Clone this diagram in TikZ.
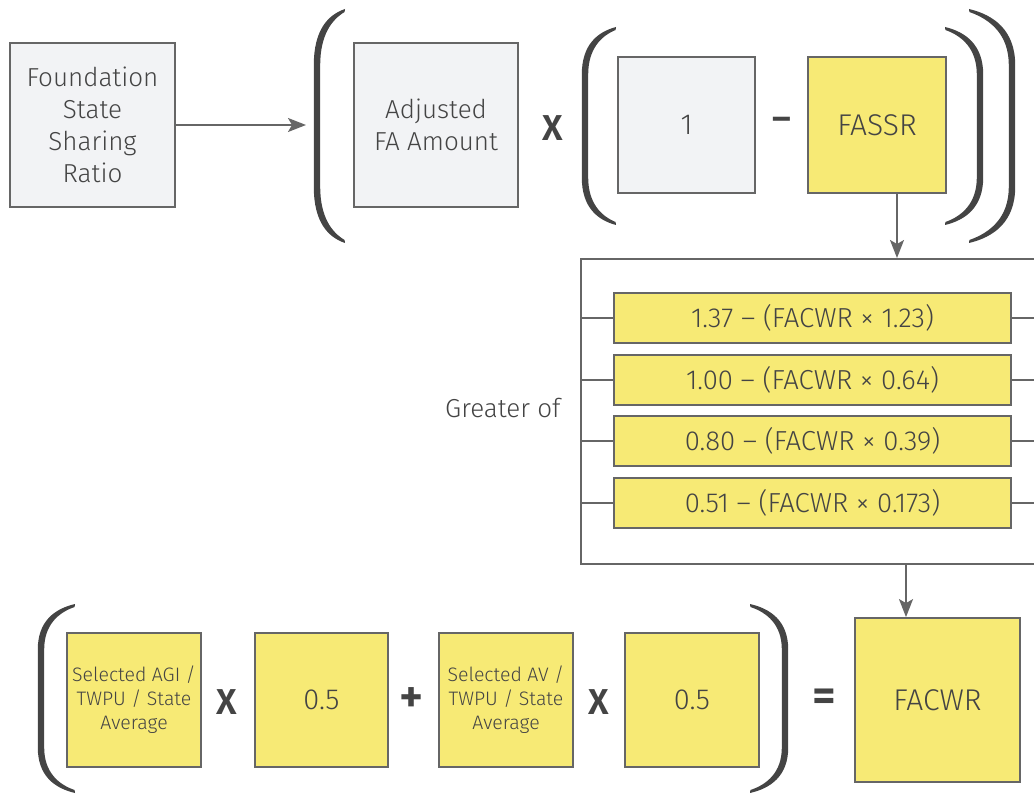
\documentclass[tikz,border=0pt]{standalone}
\usepackage{fontspec}
\IfFontExistsTF{Fira Sans Light}
  {\setmainfont{Fira Sans Light}[BoldFont={Fira Sans SemiBold}]}
  {\setmainfont{Fira Sans}}
\usetikzlibrary{arrows.meta}
\definecolor{ink}{HTML}{444444}
\definecolor{edge}{HTML}{666666}
\definecolor{paper}{HTML}{F2F3F5}
\definecolor{lemon}{HTML}{F7EA75}
\tikzset{
  base/.style={draw=edge, line width=1.8pt, text=ink, inner sep=0pt, align=center},
  greybox/.style={base, fill=paper},
  yellowbox/.style={base, fill=lemon},
  bigtxt/.style={font=\fontsize{26}{32}\selectfont},
  wordtxt/.style={font=\fontsize{30}{32}\selectfont},
  numtxt/.style={font=\fontsize{29}{32}\selectfont},
  midtxt/.style={font=\fontsize{27.5}{30}\selectfont},
  labeltxt/.style={font=\fontsize{26}{30}\selectfont},
  smalltxt/.style={font=\fontsize{19.5}{24}\selectfont},
  op/.style={text=ink, inner sep=0pt, font=\bfseries\fontsize{36}{36}\selectfont},
  bigop/.style={text=ink, inner sep=0pt, font=\bfseries\fontsize{46}{46}\selectfont},
  link/.style={draw=edge, line width=1.8pt},
  arrowlink/.style={link, -{Stealth[length=18pt,width=14pt,inset=4pt]}},
}
% Brush-like parenthesis: #1 tip x, #2 spine x, #3 top y, #4 bottom y
\newcommand\brushparen[4]{%
  \pgfmathsetmacro\pdir{(#1>#2) ? 1 : -1}%
  \pgfmathsetmacro\ph{3.2*\pdir}%
  \pgfmathsetmacro\pH{#4-#3}%
  \pgfmathsetmacro\pc{0.24*\pH}%
  \fill[ink]
    (#1,#3) .. controls ({#2-\ph+0.5*(#1-#2)},{#3+0.025*\pH}) and ({#2-\ph},{#3+0.09*\pH}) ..
    ({#2-\ph},{#3+\pc}) -- ({#2-\ph},{#4-\pc})
    .. controls ({#2-\ph},{#4-0.09*\pH}) and ({#2-\ph+0.5*(#1-#2)},{#4-0.025*\pH}) .. (#1,#4)
    -- ({#1-0.4*\pdir},{#4-3})
    .. controls ({#2+\ph+0.42*(#1-#2)},{#4-0.045*\pH}) and ({#2+\ph},{#4-0.11*\pH}) ..
    ({#2+\ph},{#4-\pc}) -- ({#2+\ph},{#3+\pc})
    .. controls ({#2+\ph},{#3+0.11*\pH}) and ({#2+\ph+0.42*(#1-#2)},{#3+0.045*\pH}) ..
    ({#1-0.4*\pdir},{#3+3}) -- cycle;%
}
\begin{document}
\begin{tikzpicture}[x=1pt, y=-1pt]
\useasboundingbox (0,0) rectangle (1034,794);

% ---- top row: Adjusted FA Amount x (1 - FASSR)
\node[greybox, bigtxt, minimum width=165, minimum height=164] (fssr) at (92.5,125)
  {Foundation\\State\\Sharing\\Ratio};
\node[greybox, bigtxt, minimum width=164, minimum height=164] (adj) at (436,125)
  {Adjusted\\FA Amount};
\node[op] (times1) at (553,128) {X};
\node[greybox, numtxt, minimum width=137, minimum height=136] (one) at (686.5,125) {1};
\node[op] (minus) at (782,124) {–};
\node[yellowbox, wordtxt, minimum width=138, minimum height=136] (fassr) at (877,125) {FASSR};

% parentheses around the product and the difference
\brushparen{345}{317}{9}{243}
\brushparen{616}{585}{27}{225}
\brushparen{945}{980}{27}{225}
\brushparen{969}{1012}{9}{243}

\coordinate (adjin) at (306,125);
\draw[arrowlink] (fssr.east) -- (fssr.east -| adjin);

% ---- "Greater of" block
\node[draw=edge, line width=1.8pt, anchor=north west, minimum width=480, minimum height=305,
  inner sep=0pt] (greater) at (580,258) {};
\node[text=ink, labeltxt, anchor=east] (glabel) at (564,408) {Greater of};
\node[yellowbox, midtxt, minimum width=397, minimum height=50] (e1) at (812.5,318)
  {1.37 – (FACWR × 1.23)};
\node[yellowbox, midtxt, minimum width=397, minimum height=50] (e2) at (812.5,380)
  {1.00 – (FACWR × 0.64)};
\node[yellowbox, midtxt, minimum width=397, minimum height=50] (e3) at (812.5,441)
  {0.80 – (FACWR × 0.39)};
\node[yellowbox, midtxt, minimum width=397, minimum height=50] (e4) at (812.5,503)
  {0.51 – (FACWR × 0.173)};
\foreach \e in {e1,e2,e3,e4}{
  \draw[link] (\e.west) -- (\e.west -| greater.west);
  \draw[link] (\e.east) -- (\e.east -| greater.east);
}

\coordinate (drop) at (897,193);
\draw[arrowlink] (drop) -- (drop |- greater.north);

% ---- bottom row: FACWR
\node[yellowbox, smalltxt, minimum width=134, minimum height=134] (agi) at (134,700)
  {Selected AGI /\\TWPU / State\\Average};
\node[op] (times2) at (227,702) {X};
\node[yellowbox, numtxt, minimum width=133, minimum height=134] (half1) at (321.5,700) {0.5};
\node[bigop] (plus) at (412,700) {+};
\node[yellowbox, smalltxt, minimum width=134, minimum height=134] (av) at (506,700)
  {Selected AV /\\TWPU / State\\Average};
\node[op] (times3) at (599,702) {X};
\node[yellowbox, numtxt, minimum width=134, minimum height=134] (half2) at (692,700) {0.5};
\node[bigop] (equals) at (824,700) {=};
\node[yellowbox, wordtxt, minimum width=165, minimum height=164] (facwr) at (937.5,700) {FACWR};

\brushparen{75}{41}{604}{793}
\brushparen{750}{785}{604}{793}

\coordinate (tap) at (906,563);
\draw[arrowlink] (tap) -- (tap |- facwr.north);
\end{tikzpicture}
\end{document}
